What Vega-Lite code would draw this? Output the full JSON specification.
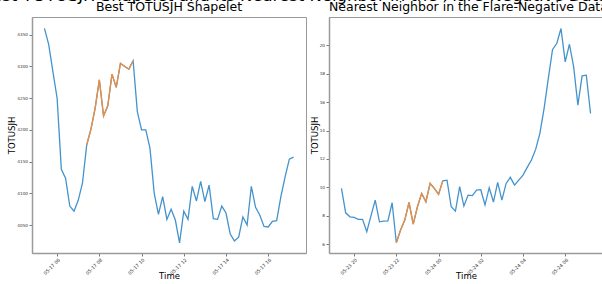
{
  "$schema": "https://vega.github.io/schema/vega-lite/v6.json",
  "background": "white",
  "padding": {"left": -20, "top": -13, "right": 0, "bottom": 0},
  "title": {"text": "Best TOTUSJH Shapelet and its Nearest Neighbor in the Flare-Negative Dataset", "fontSize": 16.5, "font": "DejaVu Sans", "fontWeight": "normal", "color": "black", "anchor": "middle", "offset": -4, "dx": -10},
  "datasets": {
    "left": [
      {"t": "2014-05-17T05:24", "v": 4360, "s": 0},
      {"t": "2014-05-17T05:36", "v": 4335, "s": 0},
      {"t": "2014-05-17T05:48", "v": 4292, "s": 0},
      {"t": "2014-05-17T06:00", "v": 4250, "s": 0},
      {"t": "2014-05-17T06:12", "v": 4138, "s": 0},
      {"t": "2014-05-17T06:24", "v": 4124, "s": 0},
      {"t": "2014-05-17T06:36", "v": 4080, "s": 0},
      {"t": "2014-05-17T06:48", "v": 4072, "s": 0},
      {"t": "2014-05-17T07:00", "v": 4089, "s": 0},
      {"t": "2014-05-17T07:12", "v": 4116, "s": 0},
      {"t": "2014-05-17T07:24", "v": 4176, "s": 1},
      {"t": "2014-05-17T07:36", "v": 4201, "s": 1},
      {"t": "2014-05-17T07:48", "v": 4234, "s": 1},
      {"t": "2014-05-17T08:00", "v": 4279, "s": 1},
      {"t": "2014-05-17T08:12", "v": 4222, "s": 1},
      {"t": "2014-05-17T08:24", "v": 4238, "s": 1},
      {"t": "2014-05-17T08:36", "v": 4288, "s": 1},
      {"t": "2014-05-17T08:48", "v": 4267, "s": 1},
      {"t": "2014-05-17T09:00", "v": 4305, "s": 1},
      {"t": "2014-05-17T09:12", "v": 4300, "s": 1},
      {"t": "2014-05-17T09:24", "v": 4296, "s": 1},
      {"t": "2014-05-17T09:36", "v": 4309, "s": 1},
      {"t": "2014-05-17T09:48", "v": 4229, "s": 0},
      {"t": "2014-05-17T10:00", "v": 4200, "s": 0},
      {"t": "2014-05-17T10:12", "v": 4200, "s": 0},
      {"t": "2014-05-17T10:24", "v": 4171, "s": 0},
      {"t": "2014-05-17T10:36", "v": 4100, "s": 0},
      {"t": "2014-05-17T10:48", "v": 4067, "s": 0},
      {"t": "2014-05-17T11:00", "v": 4095, "s": 0},
      {"t": "2014-05-17T11:12", "v": 4059, "s": 0},
      {"t": "2014-05-17T11:24", "v": 4075, "s": 0},
      {"t": "2014-05-17T11:36", "v": 4058, "s": 0},
      {"t": "2014-05-17T11:48", "v": 4022, "s": 0},
      {"t": "2014-05-17T12:00", "v": 4072, "s": 0},
      {"t": "2014-05-17T12:12", "v": 4059, "s": 0},
      {"t": "2014-05-17T12:24", "v": 4111, "s": 0},
      {"t": "2014-05-17T12:36", "v": 4088, "s": 0},
      {"t": "2014-05-17T12:48", "v": 4119, "s": 0},
      {"t": "2014-05-17T13:00", "v": 4087, "s": 0},
      {"t": "2014-05-17T13:12", "v": 4113, "s": 0},
      {"t": "2014-05-17T13:24", "v": 4060, "s": 0},
      {"t": "2014-05-17T13:36", "v": 4059, "s": 0},
      {"t": "2014-05-17T13:48", "v": 4080, "s": 0},
      {"t": "2014-05-17T14:00", "v": 4069, "s": 0},
      {"t": "2014-05-17T14:12", "v": 4036, "s": 0},
      {"t": "2014-05-17T14:24", "v": 4025, "s": 0},
      {"t": "2014-05-17T14:36", "v": 4031, "s": 0},
      {"t": "2014-05-17T14:48", "v": 4063, "s": 0},
      {"t": "2014-05-17T15:00", "v": 4050, "s": 0},
      {"t": "2014-05-17T15:12", "v": 4111, "s": 0},
      {"t": "2014-05-17T15:24", "v": 4078, "s": 0},
      {"t": "2014-05-17T15:36", "v": 4066, "s": 0},
      {"t": "2014-05-17T15:48", "v": 4048, "s": 0},
      {"t": "2014-05-17T16:00", "v": 4047, "s": 0},
      {"t": "2014-05-17T16:12", "v": 4056, "s": 0},
      {"t": "2014-05-17T16:24", "v": 4057, "s": 0},
      {"t": "2014-05-17T16:36", "v": 4095, "s": 0},
      {"t": "2014-05-17T16:48", "v": 4126, "s": 0},
      {"t": "2014-05-17T17:00", "v": 4154, "s": 0},
      {"t": "2014-05-17T17:12", "v": 4157, "s": 0}
    ],
    "right": [
      {"t": "2014-05-23T19:24", "v": 9.92, "s": 0},
      {"t": "2014-05-23T19:36", "v": 8.2, "s": 0},
      {"t": "2014-05-23T19:48", "v": 7.92, "s": 0},
      {"t": "2014-05-23T20:00", "v": 7.88, "s": 0},
      {"t": "2014-05-23T20:12", "v": 7.74, "s": 0},
      {"t": "2014-05-23T20:24", "v": 7.74, "s": 0},
      {"t": "2014-05-23T20:36", "v": 6.87, "s": 0},
      {"t": "2014-05-23T20:48", "v": 8.0, "s": 0},
      {"t": "2014-05-23T21:00", "v": 9.1, "s": 0},
      {"t": "2014-05-23T21:12", "v": 7.57, "s": 0},
      {"t": "2014-05-23T21:24", "v": 7.62, "s": 0},
      {"t": "2014-05-23T21:36", "v": 7.64, "s": 0},
      {"t": "2014-05-23T21:48", "v": 8.91, "s": 0},
      {"t": "2014-05-23T22:00", "v": 6.09, "s": 1},
      {"t": "2014-05-23T22:12", "v": 6.99, "s": 1},
      {"t": "2014-05-23T22:24", "v": 7.69, "s": 1},
      {"t": "2014-05-23T22:36", "v": 8.94, "s": 1},
      {"t": "2014-05-23T22:48", "v": 7.41, "s": 1},
      {"t": "2014-05-23T23:00", "v": 8.63, "s": 1},
      {"t": "2014-05-23T23:12", "v": 9.57, "s": 1},
      {"t": "2014-05-23T23:24", "v": 8.98, "s": 1},
      {"t": "2014-05-23T23:36", "v": 10.27, "s": 1},
      {"t": "2014-05-23T23:48", "v": 9.92, "s": 1},
      {"t": "2014-05-24T00:00", "v": 9.5, "s": 1},
      {"t": "2014-05-24T00:12", "v": 10.46, "s": 1},
      {"t": "2014-05-24T00:24", "v": 10.5, "s": 0},
      {"t": "2014-05-24T00:36", "v": 8.63, "s": 0},
      {"t": "2014-05-24T00:48", "v": 8.32, "s": 0},
      {"t": "2014-05-24T01:00", "v": 10.04, "s": 0},
      {"t": "2014-05-24T01:12", "v": 8.68, "s": 0},
      {"t": "2014-05-24T01:24", "v": 9.45, "s": 0},
      {"t": "2014-05-24T01:36", "v": 9.42, "s": 0},
      {"t": "2014-05-24T01:48", "v": 9.8, "s": 0},
      {"t": "2014-05-24T02:00", "v": 9.83, "s": 0},
      {"t": "2014-05-24T02:12", "v": 8.75, "s": 0},
      {"t": "2014-05-24T02:24", "v": 9.97, "s": 0},
      {"t": "2014-05-24T02:36", "v": 8.96, "s": 0},
      {"t": "2014-05-24T02:48", "v": 10.34, "s": 0},
      {"t": "2014-05-24T03:00", "v": 9.1, "s": 0},
      {"t": "2014-05-24T03:12", "v": 10.27, "s": 0},
      {"t": "2014-05-24T03:24", "v": 10.7, "s": 0},
      {"t": "2014-05-24T03:36", "v": 10.15, "s": 0},
      {"t": "2014-05-24T03:48", "v": 10.5, "s": 0},
      {"t": "2014-05-24T04:00", "v": 10.86, "s": 0},
      {"t": "2014-05-24T04:12", "v": 11.4, "s": 0},
      {"t": "2014-05-24T04:24", "v": 11.92, "s": 0},
      {"t": "2014-05-24T04:36", "v": 12.67, "s": 0},
      {"t": "2014-05-24T04:48", "v": 13.8, "s": 0},
      {"t": "2014-05-24T05:00", "v": 15.56, "s": 0},
      {"t": "2014-05-24T05:12", "v": 17.67, "s": 0},
      {"t": "2014-05-24T05:24", "v": 19.71, "s": 0},
      {"t": "2014-05-24T05:36", "v": 20.13, "s": 0},
      {"t": "2014-05-24T05:48", "v": 21.19, "s": 0},
      {"t": "2014-05-24T06:00", "v": 18.84, "s": 0},
      {"t": "2014-05-24T06:12", "v": 20.08, "s": 0},
      {"t": "2014-05-24T06:24", "v": 18.49, "s": 0},
      {"t": "2014-05-24T06:36", "v": 15.79, "s": 0},
      {"t": "2014-05-24T06:48", "v": 17.85, "s": 0},
      {"t": "2014-05-24T07:00", "v": 17.9, "s": 0},
      {"t": "2014-05-24T07:12", "v": 15.2, "s": 0}
    ]
  },
  "spacing": 2,
  "hconcat": [
    {
      "title": {"text": "Best TOTUSJH Shapelet", "anchor": "middle", "frame": "group"},
      "width": 274,
      "height": 236,
      "data": {"name": "left"},
      "encoding": {
        "x": {"field": "t", "type": "temporal", "title": "Time",
          "scale": {"domain": [{"year": 2014, "month": 5, "date": 17, "hours": 4, "minutes": 48, "seconds": 36}, {"year": 2014, "month": 5, "date": 17, "hours": 17, "minutes": 47, "seconds": 24}]},
          "axis": {"format": "%m-%d %H", "values": [
            {"year": 2014, "month": 5, "date": 17, "hours": 6},
            {"year": 2014, "month": 5, "date": 17, "hours": 8},
            {"year": 2014, "month": 5, "date": 17, "hours": 10},
            {"year": 2014, "month": 5, "date": 17, "hours": 12},
            {"year": 2014, "month": 5, "date": 17, "hours": 14},
            {"year": 2014, "month": 5, "date": 17, "hours": 16}]}},
        "y": {"field": "v", "type": "quantitative", "title": "TOTUSJH",
          "scale": {"domain": [4006, 4378], "nice": false, "zero": false},
          "axis": {"values": [4050, 4100, 4150, 4200, 4250, 4300, 4350], "format": "d", "titleX": -16}}
      },
      "layer": [
        {"mark": {"type": "line", "color": "#4493cc", "strokeWidth": 1.3}},
        {"transform": [{"filter": "datum.s == 1"}], "mark": {"type": "line", "color": "#ef8d3d", "strokeWidth": 1.3}}
      ]
    },
    {
      "title": {"text": "Nearest Neighbor in the Flare-Negative Dataset", "anchor": "start", "frame": "group"},
      "width": 274,
      "height": 236,
      "data": {"name": "right"},
      "encoding": {
        "x": {"field": "t", "type": "temporal", "title": "Time",
          "scale": {"domain": [{"year": 2014, "month": 5, "date": 23, "hours": 18, "minutes": 48, "seconds": 36}, {"year": 2014, "month": 5, "date": 24, "hours": 7, "minutes": 47, "seconds": 24}]},
          "axis": {"format": "%m-%d %H", "values": [
            {"year": 2014, "month": 5, "date": 23, "hours": 20},
            {"year": 2014, "month": 5, "date": 23, "hours": 22},
            {"year": 2014, "month": 5, "date": 24, "hours": 0},
            {"year": 2014, "month": 5, "date": 24, "hours": 2},
            {"year": 2014, "month": 5, "date": 24, "hours": 4},
            {"year": 2014, "month": 5, "date": 24, "hours": 6}]}},
        "y": {"field": "v", "type": "quantitative", "title": "TOTUSJH",
          "scale": {"domain": [5.37, 22.0], "nice": false, "zero": false},
          "axis": {"values": [6, 8, 10, 12, 14, 16, 18, 20], "format": "d", "titleX": -10}}
      },
      "layer": [
        {"mark": {"type": "line", "color": "#4493cc", "strokeWidth": 1.3}},
        {"transform": [{"filter": "datum.s == 1"}], "mark": {"type": "line", "color": "#ef8d3d", "strokeWidth": 1.3}}
      ]
    }
  ],
  "config": {
    "font": "DejaVu Sans",
    "view": {"stroke": "#9a9a9a", "strokeWidth": 1},
    "title": {"fontSize": 12.5, "fontWeight": "normal", "font": "DejaVu Sans", "color": "black", "offset": 0},
    "axis": {"domainColor": "#9a9a9a", "domainWidth": 1.5, "tickColor": "#555555", "tickSize": 3, "tickWidth": 0.8, "labelFontSize": 4.2, "labelColor": "#333333", "labelFont": "DejaVu Sans", "titleFont": "DejaVu Sans", "titleFontSize": 8.5, "titleFontWeight": "normal", "titleColor": "black", "grid": false},
    "axisX": {"labelAngle": -45, "labelAlign": "right", "labelBaseline": "top", "labelPadding": 1, "titlePadding": -4, "labelFontSize": 4.7},
    "axisY": {"labelPadding": 1.5, "titlePadding": 2}
  }
}
